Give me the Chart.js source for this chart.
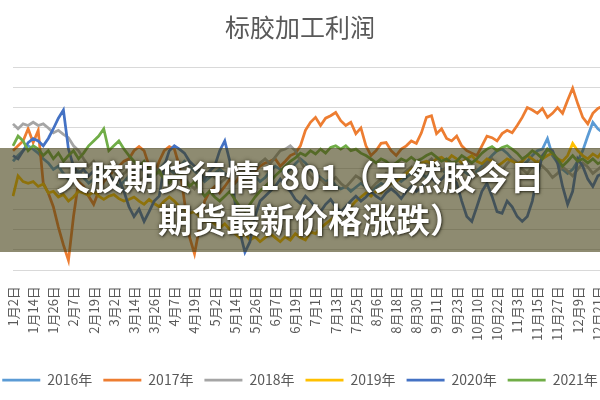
<!DOCTYPE html>
<html>
<head>
<meta charset="utf-8">
<title>标胶加工利润</title>
<script src="https://cdn.jsdelivr.net/npm/chart.js@4.4.1/dist/chart.umd.min.js"></script>
<style>
  html, body { margin: 0; padding: 0; background: #fff; }
  #wrap { position: relative; width: 600px; height: 400px; overflow: hidden; }
  #chart { position: absolute; left: -20px; top: 0; }
  /* dark band laid over the middle of the chart */
  #band { position: absolute; left: 0; top: 148px; width: 600px; height: 104px;
          background: rgba(66, 61, 18, 0.6); }
  #caption { position: absolute; left: 0; top: 154px; width: 600px; text-align: center;
             font: 700 34px/43px "Noto Sans CJK SC", sans-serif; color: #fff;
             text-shadow: 0 0 4px rgba(40, 38, 20, 0.85), 1px 1px 2px rgba(0, 0, 0, 0.5); }
  #caption .l2 { padding-left: 22px; }
</style>
</head>
<body>
<div id="wrap">
  <canvas id="chart" width="640" height="400"></canvas>
  <div id="band"></div>
  <div id="caption">
    <div>天胶期货行情1801（天然胶今日</div>
    <div class="l2">期货最新价格涨跌）</div>
  </div>
</div>
<script>
const FONT = '"Noto Sans CJK SC", "Noto Sans", sans-serif';

const chartTitle = '标胶加工利润';

// shown date labels, one every 4 points
const tickLabels = ['1月2日', '1月14日', '1月26日', '2月7日', '2月19日', '3月2日', '3月14日',
  '3月26日', '4月7日', '4月19日', '5月2日', '5月14日', '5月26日', '6月7日', '6月19日',
  '7月1日', '7月13日', '7月25日', '8月6日', '8月18日', '8月30日', '9月11日', '9月23日',
  '10月10日', '10月22日', '11月3日', '11月15日', '11月27日', '12月9日', '12月21日'];
const pointsPerLabel = 4;
const pointCount = 120;

const years = ['2016年', '2017年', '2018年', '2019年', '2020年', '2021年'];

// profit values (yuan/ton, estimated)
const s2016 = [
  -160, -90, -30, 30, -10, -60, -130, -180, -260, -220,
  -310, -380, -340, -280, -360, -430, -380, -310, -260, -330,
  -410, -470, -410, -340, -280, -220, -280, -360, -310, -260,
  -190, -260, -310, -230, -160, -220, -280, -340, -410, -360,
  -310, -260, -310, -380, -430, -380, -330, -280, -340, -410,
  -360, -280, -220, -260, -310, -260, -190, -130, -180, -260,
  -310, -360, -410, -380, -460, -500, -470, -530, -480, -430,
  -480, -530, -480, -430, -470, -410, -360, -410, -360, -310,
  -260, -310, -360, -280, -220, -260, -310, -260, -210, -260,
  -310, -360, -280, -220, -160, -90, -30, -10, -60, -130,
  -180, -220, -160, -90, -30, -10, 120, -90, -180, -260,
  -310, -260, -160, -30, 150, 320, 240, 190, 240, 280];
const s2017 = [
  -30, 30, 90, 240, 70, 220, -430, -550, -720, -970,
  -1190, -1380, -840, -410, -470, -590, -690, -530, -410, -340,
  -280, -220, -160, -130, -30, 20, -30, -220, -340, -160,
  -30, 20, -10, -220, -650, -1090, -1300, -970, -650, -530,
  -470, -550, -470, -380, -430, -340, -410, -310, -280, -220,
  -180, -160, -130, -220, -160, -90, -60, 30, 220, 320,
  380, 280, 370, 400, 440, 340, 280, 320, 180, 250,
  30, -90, -30, 60, 70, -30, -90, -10, 30, 90,
  60, 190, 380, 400, 180, 240, 120, 90, 150, 30,
  -30, -60, -90, 30, 150, 130, 90, 180, 220, 190,
  280, 380, 500, 470, 430, 490, 380, 430, 500, 430,
  590, 740, 550, 380, 300, 430, 490, 520, 470, 440];
const s2018 = [
  300, 240, 300, 280, 320, 280, 300, 250, 190, 220,
  170, 130, 30, -30, -130, -220, -160, -260, -310, -220,
  -280, -380, -310, -260, -340, -410, -360, -280, -220, -310,
  -380, -430, -340, -280, -360, -440, -500, -410, -340, -280,
  -360, -430, -380, -310, -260, -340, -410, -320, -260, -180,
  -130, -190, -110, -30, -10, 30, -30, -160, -260, -340,
  -410, -380, -440, -410, -360, -430, -480, -410, -340, -380,
  -460, -500, -430, -380, -310, -360, -410, -340, -280, -230,
  -310, -260, -180, -130, -220, -280, -230, -310, -360, -280,
  -220, -280, -340, -260, -180, -130, -220, -280, -190, -130,
  -180, -260, -310, -230, -160, -220, -280, -360, -310, -230,
  -280, -340, -260, -180, -230, -310, -260, -210, -160, -190];
const s2019 = [
  -590, -340, -410, -430, -410, -470, -440, -550, -530, -600,
  -570, -650, -600, -530, -550, -580, -530, -590, -630, -590,
  -570, -620, -650, -630, -600, -650, -690, -630, -680, -720,
  -650, -600, -650, -720, -750, -800, -780, -840, -900, -880,
  -930, -980, -930, -1000, -1050, -1100, -1050, -1130, -1090, -1150,
  -1100, -1050, -1100, -1150, -1090, -1130, -1050, -1100, -1130, -1030,
  -1050, -980, -930, -880, -840, -800, -780, -720, -650, -600,
  -550, -590, -530, -550, -480, -430, -410, -360, -310, -260,
  -220, -180, -160, -190, -130, -110, -160, -90, -130, -180,
  -130, -90, -160, -190, -130, -160, -220, -180, -130, -160,
  -190, -160, -90, -130, -180, -130, -90, -60, -130, -160,
  -90, 60, -30, -90, -130, -70, -110, -30, -60, -90];
const s2020 = [
  -90, -130, -30, 70, 120, 90, 30, 120, 240, 370,
  470, -10, -220, -310, -260, -340, -280, -260, -340, -310,
  -410, -380, -530, -720, -840, -750, -900, -780, -650, -590,
  -220, -30, 30, -10, -60, -160, -220, -280, -380, -280,
  -220, -30, 90, -160, -650, -1030, -1280, -1150, -840, -650,
  -590, -530, -470, -380, -470, -530, -630, -680, -590, -650,
  -730, -780, -690, -630, -720, -780, -720, -650, -590, -650,
  -600, -530, -590, -630, -550, -500, -550, -620, -530, -470,
  -530, -480, -410, -360, -430, -380, -310, -360, -430, -650,
  -840, -900, -720, -530, -430, -590, -780, -800, -650, -720,
  -840, -900, -840, -650, -340, -90, -10, -30, -180, -470,
  -690, -530, -130, -220, -380, -470, -340, -310, -380, -430];
const s2021 = [
  30, 150, 90, -30, 30, -10, -90, -30, -130, -60,
  -160, -90, -30, -130, -60, 30, 90, 150, 240, -30,
  30, 90, -10, -90, -160, -220, -160, -260, -340, -280,
  -380, -430, -360, -310, -380, -470, -410, -500, -590, -530,
  -600, -650, -590, -530, -630, -720, -780, -690, -600, -530,
  -470, -410, -340, -280, -220, -160, -120, -60, -90, -30,
  -70, -10, -60, 10, 30, -10, 30, -30, -10, -60,
  -90, -130, -180, -130, -160, -220, -180, -130, -160, -110,
  -160, -130, -90, -60, -110, -160, -130, -180, -160, -90,
  -130, -180, -130, -60, -10, 20, -30, 10, 30, -10,
  -60, -130, -90, -30, -70, -130, -10, -60, -130, -220,
  -160, -90, -160, -130, -180, -130, -190, -160, -220, -180];

const seriesValues = [s2016, s2017, s2018, s2019, s2020, s2021];
const seriesColors = ['#5B9BD5', '#ED7D31', '#A5A5A5', '#FFC000', '#4472C4', '#70AD47'];

// category list: the date label sits on every 4th point, the rest stay blank
const categories = [];
for (let i = 0; i < pointCount; i++) {
  categories.push(i % pointsPerLabel === 0 ? (tickLabels[i / pointsPerLabel] || '') : '');
}

const datasets = years.map((y, k) => ({
  label: y,
  data: seriesValues[k],
  borderColor: seriesColors[k],
  backgroundColor: seriesColors[k],
  borderWidth: 2.75,
  pointRadius: 0,
  tension: 0,
  // later years drawn on top, like the spreadsheet
  order: years.length - 1 - k
}));

new Chart(document.getElementById('chart'), {
  type: 'line',
  data: { labels: categories, datasets: datasets },
  options: {
    responsive: false,
    animation: false,
    devicePixelRatio: 1,
    layout: { padding: { left: 7, right: 7, top: 0, bottom: 3 } },
    plugins: {
      title: {
        display: true,
        text: chartTitle,
        color: '#595959',
        font: { family: FONT, size: 25, weight: 'normal' },
        padding: { top: 12, bottom: 25 }
      },
      legend: {
        position: 'bottom',
        labels: {
          usePointStyle: true,
          pointStyle: 'line',
          pointStyleWidth: 38,
          color: '#595959',
          font: { family: FONT, size: 14 },
          padding: 11,
          sort: (a, b) => a.datasetIndex - b.datasetIndex
        }
      },
      tooltip: { enabled: false }
    },
    scales: {
      x: {
        grid: { display: false, drawTicks: false },
        border: { color: '#d9d9d9' },
        ticks: {
          autoSkip: false,
          maxRotation: 90,
          minRotation: 90,
          padding: 16,
          color: '#595959',
          font: { family: FONT, size: 13 }
        },
        // keep the plot running to the right edge, the labels need no side room
        afterFit: (scale) => {
          scale.paddingLeft = 0;
          scale.paddingRight = 0;
          scale.height += 5;
        }
      },
      y: {
        min: -1500,
        max: 1000,
        ticks: { stepSize: 250, display: false },
        grid: { color: '#d9d9d9', drawTicks: false },
        border: { display: false },
        afterFit: (scale) => { scale.width = 26; }
      }
    }
  }
});
</script>
</body>
</html>
